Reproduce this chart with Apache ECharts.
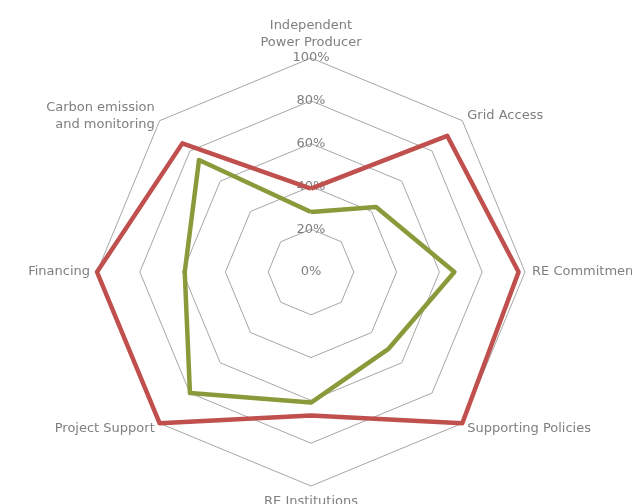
<!DOCTYPE html>
<html>
<head>
<meta charset="utf-8">
<script src="https://cdn.jsdelivr.net/npm/echarts@6/dist/echarts.min.js"></script>
<style>
html,body{margin:0;padding:0;background:#fff;}
#chart{width:632px;height:504px;}
</style>
</head>
<body>
<div id="chart"></div>
<script>
const categories = [
  "Independent\nPower Producer",
  "Grid Access",
  "RE Commitment",
  "Supporting Policies",
  "RE Institutions",
  "Project Support",
  "Financing",
  "Carbon emission\nand monitoring"
];
const seriesRed = [39, 90, 97, 100, 67, 100, 100, 85];
const seriesGreen = [28, 43, 67, 51, 61, 80, 59, 74];
const tickMax = 100;
const tickSplit = 5;

// ECharts lays radar axes counter-clockwise; reorder so categories run clockwise
const order = [0, 7, 6, 5, 4, 3, 2, 1];
const pick = arr => order.map(i => arr[i]);

const FONT = "'DejaVu Sans', Verdana, sans-serif";
const chart = echarts.init(document.getElementById('chart'));
chart.setOption({
  animation: false,
  radar: {
    center: [311, 272],
    radius: 214,
    startAngle: 90,
    shape: 'polygon',
    splitNumber: tickSplit,
    nameGap: 7,
    axisName: { color: '#7f7f7f', fontFamily: FONT, fontSize: 13, lineHeight: 17 },
    axisLine: { show: false },
    axisTick: { show: false },
    axisLabel: { show: false },
    splitArea: { show: false },
    splitLine: { lineStyle: { color: '#a6a6a6', width: 1 } },
    indicator: pick(categories).map((c, i) => {
      const o = { name: c, min: 0, max: tickMax };
      if (i === 0) {
        o.axisLabel = {
          show: true, margin: 0, align: 'center', verticalAlign: 'middle',
          color: '#7f7f7f', fontFamily: FONT, fontSize: 13,
          formatter: v => v + '%'
        };
      }
      return o;
    })
  },
  series: [{
    type: 'radar',
    symbol: 'none',
    data: [
      { value: pick(seriesRed), lineStyle: { color: '#c0504d', width: 4.5 }, itemStyle: { color: '#c0504d' } },
      { value: pick(seriesGreen), lineStyle: { color: '#8a9a3a', width: 4.5 }, itemStyle: { color: '#8a9a3a' } }
    ]
  }]
});
</script>
</body>
</html>
